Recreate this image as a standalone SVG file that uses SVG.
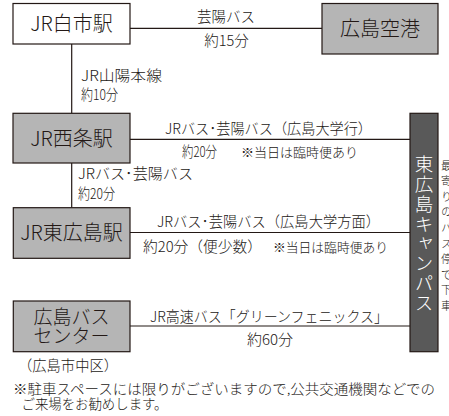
<svg xmlns="http://www.w3.org/2000/svg" width="449" height="416" viewBox="0 0 449 416">
<style>
text{font-family:"Noto Sans CJK JP","Noto Sans CJK SC",sans-serif;fill:#231815;font-weight:300}
.st{font-size:20px;text-anchor:middle}
.lb{font-size:14.5px}
.sm{font-size:13px}
.box{stroke:#231815;stroke-width:1.2}
.w{fill:#ffffff}
.g{fill:#b5b5b5}
.d{fill:#595959}
.ln{stroke:#231815;stroke-width:1.2;fill:none}
</style>
<rect width="449" height="416" fill="#ffffff"/>
<g id="connectors">
<line class="ln" x1="130" y1="28.3" x2="322" y2="28.3"/>
<line class="ln" x1="71.7" y1="44" x2="71.7" y2="113.3"/>
<line class="ln" x1="130" y1="139.3" x2="410" y2="139.3"/>
<line class="ln" x1="71.7" y1="163" x2="71.7" y2="207.7"/>
<line class="ln" x1="130" y1="232.5" x2="410" y2="232.5"/>
<line class="ln" x1="130" y1="326" x2="410" y2="326"/>
<text class="lb" x="226" y="22" text-anchor="middle">芸陽バス</text>
<text class="lb" x="226.5" y="46" text-anchor="middle">約15分</text>
<text class="lb" x="81" y="81" textLength="81" lengthAdjust="spacingAndGlyphs">JR山陽本線</text>
<text class="lb" x="81" y="99.5" textLength="37" lengthAdjust="spacingAndGlyphs">約10分</text>
<text class="lb" x="165" y="134" textLength="207" lengthAdjust="spacingAndGlyphs">JRバス･芸陽バス（広島大学行）</text>
<text class="lb" x="182" y="157" textLength="35" lengthAdjust="spacingAndGlyphs">約20分</text>
<text class="sm" x="241" y="157" textLength="117" lengthAdjust="spacingAndGlyphs">※当日は臨時便あり</text>
<text class="lb" x="78" y="179" textLength="115" lengthAdjust="spacingAndGlyphs">JRバス･芸陽バス</text>
<text class="lb" x="78" y="199" textLength="37" lengthAdjust="spacingAndGlyphs">約20分</text>
<text class="lb" x="157" y="227" textLength="223" lengthAdjust="spacingAndGlyphs">JRバス･芸陽バス（広島大学方面）</text>
<text class="lb" x="143" y="251.5" textLength="119" lengthAdjust="spacingAndGlyphs">約20分（便少数）</text>
<text class="sm" x="273" y="251.5" textLength="115" lengthAdjust="spacingAndGlyphs">※当日は臨時便あり</text>
<text class="lb" x="150" y="322" textLength="238" lengthAdjust="spacingAndGlyphs">JR高速バス「グリーンフェニックス」</text>
<text class="lb" x="247" y="345" textLength="46" lengthAdjust="spacingAndGlyphs">約60分</text>
</g>
<g id="shiraichi">
<rect class="box w" x="13" y="3.5" width="117" height="40.5"/>
<text class="st" x="71.5" y="31">JR白市駅</text>
</g>
<g id="airport">
<rect class="box g" x="322" y="3.5" width="116" height="50.5"/>
<text class="st" x="380" y="36">広島空港</text>
</g>
<g id="saijo">
<rect class="box g" x="13" y="113.3" width="117" height="49.7"/>
<text class="st" x="71.5" y="146">JR西条駅</text>
</g>
<g id="higashihiroshima">
<rect class="box g" x="13.3" y="207.7" width="116.7" height="50.6"/>
<text class="st" x="71.5" y="240">JR東広島駅</text>
</g>
<g id="buscenter">
<rect class="box g" x="13.3" y="301" width="116.7" height="50.7"/>
<text class="st" x="71.5" y="323.5" style="font-size:19px">広島バス</text>
<text class="st" x="71.5" y="342.5" style="font-size:19px">センター</text>
<text class="lb" x="18" y="371" textLength="100" lengthAdjust="spacingAndGlyphs">（広島市中区）</text>
</g>
<g id="campus">
<rect class="box d" x="410" y="113.3" width="28" height="238.4"/>
<text x="424" y="155" style="writing-mode:vertical-rl;font-size:18.5px;letter-spacing:1.3px;fill:#ffffff">東広島キャンパス</text>
</g>
<g id="sidenote">
<text x="446.5" y="160" style="writing-mode:vertical-rl;font-size:11px;letter-spacing:4.6px">最寄りのバス停で下車</text>
</g>
<g id="footnote">
<text x="13" y="394" style="font-size:13.5px" textLength="422" lengthAdjust="spacingAndGlyphs">※駐車スペースには限りがございますので,公共交通機関などでの</text>
<text x="21.5" y="409" style="font-size:13.5px" textLength="146" lengthAdjust="spacingAndGlyphs">ご来場をお勧めします。</text>
</g>
</svg>
